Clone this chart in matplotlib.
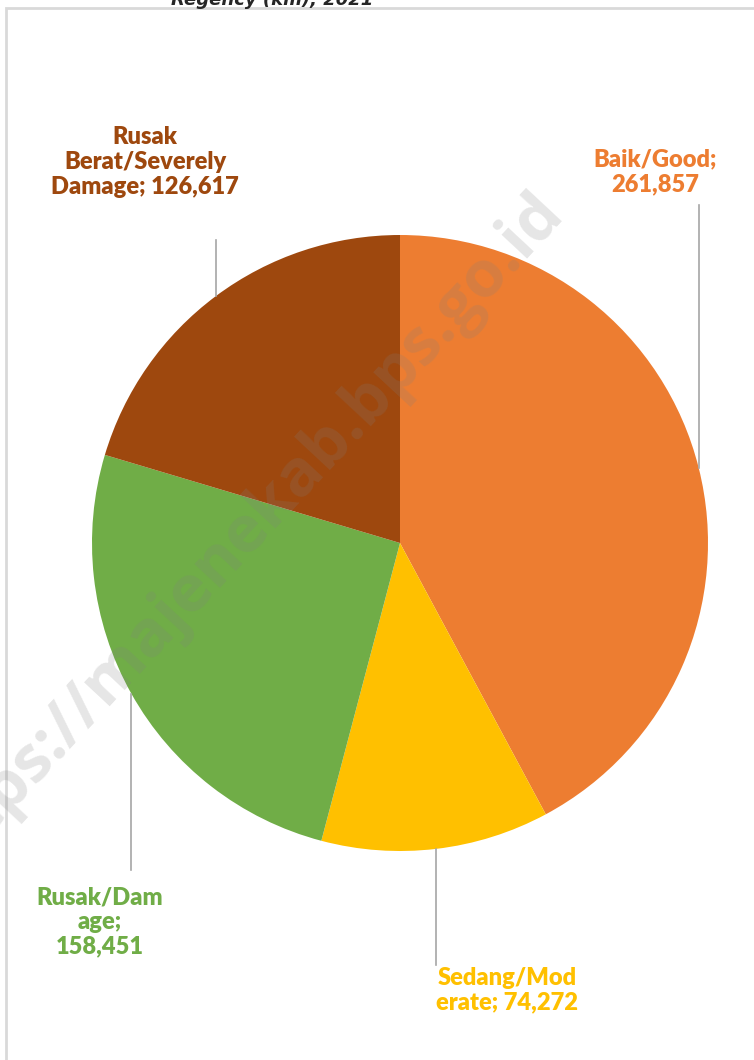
import numpy as np
import matplotlib.pyplot as plt
from matplotlib.patches import Rectangle

# data
categories = ["Baik/Good", "Sedang/Moderate", "Rusak/Damage", "Rusak Berat/Severely Damage"]
label_texts = ["Baik/Good;\n{}", "Sedang/Mod\nerate; {}", "Rusak/Dam\nage;\n{}", "Rusak\nBerat/Severely\nDamage; {}"]
values = [261857, 74272, 158451, 126617]
colors = ["#ED7D31", "#FFC000", "#70AD47", "#9E480E"]

W, H = 754, 1060
fig = plt.figure(figsize=(W / 100, H / 100), dpi=100)
ax = fig.add_axes([0, 0, 1, 1])

cx, cy, r = 400, H - 543, 308
wedges, _ = ax.pie(values, colors=colors, startangle=90, counterclock=False,
                   center=(cx, cy), radius=r, frame=True)
ax.set_xlim(0, W)
ax.set_ylim(0, H)
ax.set_aspect("equal")
ax.axis("off")

# label anchor heights (pixel rows from top) and where the leader line stops
label_y = [172, 990, 922, 162]
line_end = [205, 965, 870, 240]
label_x = [655, 507, 100, 145]

for w, txt, v, c, ly, le, lx in zip(wedges, label_texts, values, colors, label_y, line_end, label_x):
    mid = np.deg2rad((w.theta1 + w.theta2) / 2)
    ex = cx + r * np.cos(mid)
    ey = cy + r * np.sin(mid)
    ax.plot([ex, ex], [ey, H - le], color="#A6A6A6", lw=1.2, zorder=1)
    ax.text(lx, H - ly, txt.format(f"{v:,}"), color=c, fontsize=17, fontweight="heavy",
            family="Lato", ha="center", va="center", linespacing=1.15)

# chart border
ax.add_patch(Rectangle((6, -10), W + 20, H - 8 + 10, fill=False, ec="#D9D9D9", lw=2))

# title (cut off at the top)
ax.text(272, H - 5, "Regency (km), 2021", fontsize=13, fontweight="bold", style="italic",
        ha="center", va="baseline", color="#262626")

# watermark
ax.text(240, 522, "https://majenekab.bps.go.id", fontsize=47, fontweight="bold",
        family="Open Sans", color="gray", alpha=0.2, rotation=47,
        ha="center", va="center", zorder=10)

fig.savefig("out.png", dpi=100)
